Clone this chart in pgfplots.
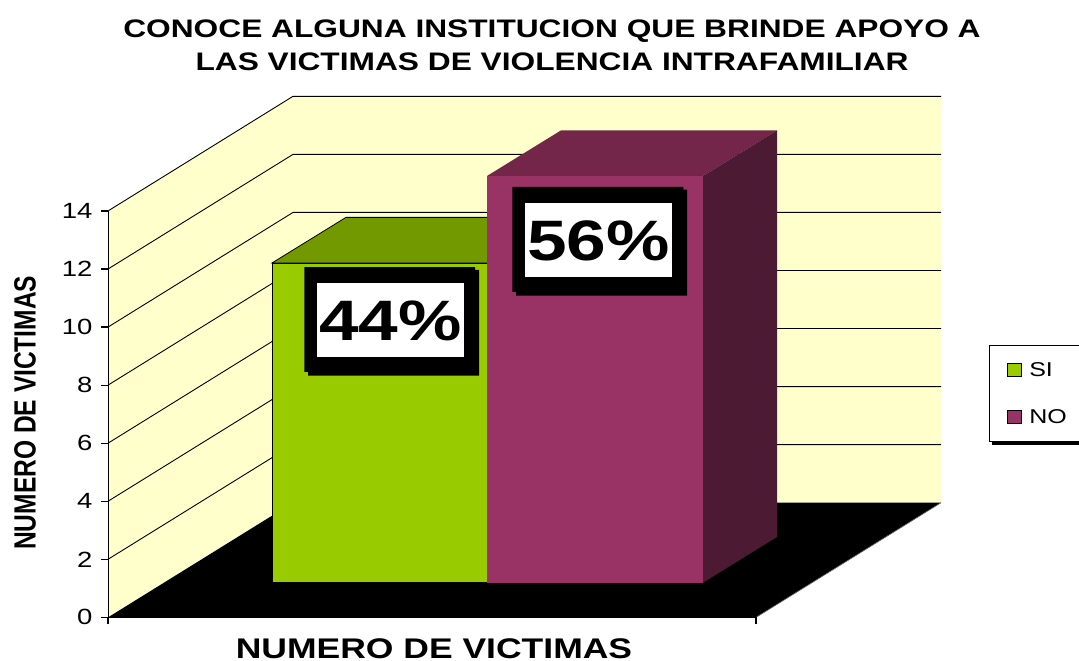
\documentclass[border=0pt]{standalone}
\usepackage{fontspec}
\setmainfont{Liberation Sans}
\newfontfamily\wide[FakeStretch=1.25]{Liberation Sans}
\newfontfamily\narrow[FakeStretch=0.8]{Liberation Sans}
\usepackage{pgfplots}
\pgfplotsset{compat=1.18}
\definecolor{wall}{HTML}{FFFFCC}
\definecolor{gfront}{HTML}{99CC00}
\definecolor{gtop}{HTML}{739900}
\definecolor{pfront}{HTML}{993366}
\definecolor{ptop}{HTML}{732649}
\definecolor{pside}{HTML}{4D1A33}
\begin{document}
\begin{tikzpicture}
\begin{axis}[
  scale only axis, width=648pt, height=406.4pt,
  xmin=108, xmax=756, ymin=0, ymax=14,
  clip=false, axis on top,
  axis x line=bottom, axis y line=left, axis line style={-, line width=0.9pt},
  xtick={108,756}, xticklabels={,},
  ytick={0,2,4,6,8,10,12,14},
  tick align=outside, major tick length=7pt,
  tick style={black, line width=1.2pt},
  /pgf/number format/assume math mode=true,
  yticklabel style={font=\wide\fontsize{22}{24}\selectfont, xshift=-5pt},
  title={CONOCE ALGUNA INSTITUCION QUE BRINDE APOYO A\\LAS VICTIMAS DE VIOLENCIA INTRAFAMILIAR},
  title style={at={(axis cs:552,19.51)}, anchor=center, align=center,
    font=\wide\bfseries\fontsize{25.35}{33}\selectfont},
  xlabel={NUMERO DE VICTIMAS},
  xlabel style={at={(axis cs:434,-1.08)}, anchor=center, inner sep=0pt,
    font=\wide\bfseries\fontsize{28.4}{30}\selectfont},
  ylabel={NUMERO DE VICTIMAS},
  ylabel style={at={(axis cs:25,7.05)}, anchor=center,
    font=\narrow\bfseries\fontsize{30.7}{32}\selectfont},
  legend style={at={(axis cs:989,9.383)}, anchor=north west, draw=black, line width=0.9pt,
    fill=white, font=\wide\fontsize{20}{22}\selectfont,
    inner xsep=18pt, inner ysep=15pt, row sep=27.5pt},
  legend cell align=left,
  legend image code/.code={\draw[#1, line width=0.8pt] (0pt,-6.5pt) rectangle (14pt,6.5pt);
    \path (19pt,0pt);},
]
% walls
\addplot[fill=wall,draw=none,forget plot] coordinates {(108,0)(293,3.95)(293,17.95)(108,14)} --cycle;
\addplot[fill=wall,draw=none,forget plot] coordinates {(293,3.95)(941,3.95)(941,17.95)(293,17.95)} --cycle;
% floor
\addplot[fill=black,draw=none,forget plot] coordinates {(108,0)(756,0)(941,3.95)(293,3.95)} --cycle;
\addplot[color=black!60,line width=0.7pt,forget plot] coordinates {(756,0)(941,3.95)};
% grid lines
\addplot[black,line width=0.9pt,forget plot] coordinates {(108,2)(293,5.95)(941,5.95)};
\addplot[black,line width=0.9pt,forget plot] coordinates {(108,4)(293,7.95)(941,7.95)};
\addplot[black,line width=0.9pt,forget plot] coordinates {(108,6)(293,9.95)(941,9.95)};
\addplot[black,line width=0.9pt,forget plot] coordinates {(108,8)(293,11.95)(941,11.95)};
\addplot[black,line width=0.9pt,forget plot] coordinates {(108,10)(293,13.95)(941,13.95)};
\addplot[black,line width=0.9pt,forget plot] coordinates {(108,12)(293,15.95)(941,15.95)};
\addplot[black,line width=0.9pt,forget plot] coordinates {(108,14)(293,17.95)(941,17.95)};
% SI bar: height 11
\addplot[fill=gtop,draw=black,line width=0.8pt,forget plot] coordinates {(272,12.208)(346,13.78)(561,13.78)(487,12.208)} --cycle;
\addplot[fill=gfront,draw=black,line width=0.8pt] coordinates {(272,1.195)(487,1.195)(487,12.208)(272,12.208)} --cycle;
\addlegendentry{SI}
% NO bar: height 14
\addplot[fill=ptop,draw=none,forget plot] coordinates {(487,15.206)(561,16.776)(777,16.776)(703,15.206)} --cycle;
\addplot[fill=pside,draw=none,forget plot] coordinates {(703,1.195)(777,2.77)(777,16.776)(703,15.206)} --cycle;
\addplot[fill=pfront,draw=none] coordinates {(487,1.195)(703,1.195)(703,15.206)(487,15.206)} --cycle;
\addlegendentry{NO}
% label frames
\addplot[fill=black,draw=none,forget plot] coordinates {(304.3,12.07)(475,12.07)(475,11.967)(479,11.967)(479,8.326)(308,8.326)(308,8.453)(304.3,8.453)} --cycle;
\addplot[fill=white,draw=none,forget plot] coordinates {(316.7,8.98)(464,8.98)(464,11.53)(316.7,11.53)} --cycle;
\addplot[fill=black,draw=none,forget plot] coordinates {(512.3,14.826)(683.3,14.826)(683.3,14.733)(687,14.733)(687,11.08)(516,11.08)(516,11.21)(512.3,11.21)} --cycle;
\addplot[fill=white,draw=none,forget plot] coordinates {(525,11.74)(672,11.74)(672,14.27)(525,14.27)} --cycle;
% legend shadow
\addplot[fill=black,draw=none,forget plot] coordinates {(992,5.94)(1095,5.94)(1095,6.6)(992,6.6)} --cycle;
\node[font=\wide\bfseries\fontsize{57}{60}\selectfont, inner sep=0pt] at (axis cs:390.5,10.21) {44\%};
\node[font=\wide\bfseries\fontsize{57}{60}\selectfont, inner sep=0pt] at (axis cs:598.5,12.97) {56\%};
\coordinate (pagebl) at (axis cs:0,-1.502);
\coordinate (pagetr) at (axis cs:1079,21.268);
\end{axis}
\pgfresetboundingbox
\path[use as bounding box] (pagebl) rectangle (pagetr);
\end{tikzpicture}
\end{document}
